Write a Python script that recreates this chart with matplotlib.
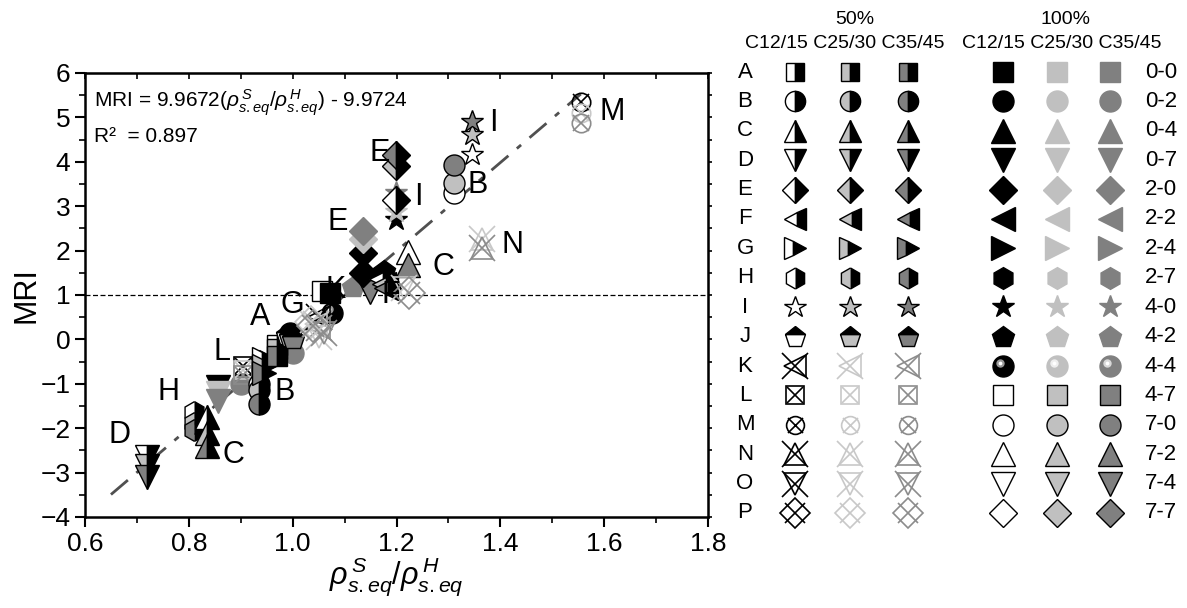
import matplotlib
matplotlib.use("Agg")
import matplotlib.pyplot as plt
import numpy as np
from matplotlib.ticker import MultipleLocator, FormatStrFormatter
from matplotlib.transforms import ScaledTranslation

plt.rcParams["font.family"] = ["Liberation Sans", "DejaVu Sans"]
plt.rcParams["mathtext.fontset"] = "custom"
plt.rcParams["mathtext.rm"] = "Liberation Sans"
plt.rcParams["mathtext.it"] = "Liberation Sans:italic"

# legend table
GROUPS_50 = list("ABCDEFGHIJKLMNOP")
GROUPS_100 = ["0-0", "0-2", "0-4", "0-7", "2-0", "2-2", "2-4", "2-7",
              "4-0", "4-2", "4-4", "4-7", "7-0", "7-2", "7-4", "7-7"]
CLASSES = ["C12/15", "C25/30", "C35/45"]

# fit line
FIT_SLOPE = 9.9672
FIT_INTERCEPT = -9.9724
FIT_R2 = 0.897
FIT_X = [0.65, 1.555]

# 50% mixes: group letter, concrete class, x, y
p50_grp = ["D", "D", "D", "H", "H", "H", "C", "C", "C",
           "L", "L", "L", "B", "B", "B", "G", "G", "G",
           "A", "A", "A", "J", "J", "J",
           "K", "K", "K", "O", "O", "P", "P",
           "F", "F", "F", "O", "P",
           "E", "E", "E", "I", "I", "I",
           "N", "N", "M", "M", "M"]
p50_cls = [0, 1, 2, 0, 1, 2, 0, 1, 2,
           0, 1, 2, 0, 1, 2, 0, 1, 2,
           0, 1, 2, 0, 1, 2,
           0, 1, 2, 1, 2, 1, 2,
           0, 1, 2, 1, 2,
           0, 1, 2, 0, 1, 2,
           1, 2, 0, 1, 2]
p50_x = [0.72, 0.72, 0.72, 0.81, 0.81, 0.81, 0.835, 0.835, 0.835,
         0.905, 0.905, 0.905, 0.935, 0.935, 0.935, 0.945, 0.945, 0.945,
         0.97, 0.97, 0.97, 0.99, 0.995, 1.0,
         1.05, 1.045, 1.05, 1.05, 1.06, 1.035, 1.04,
         1.17, 1.175, 1.18, 1.215, 1.225,
         1.2, 1.2, 1.2, 1.345, 1.345, 1.345,
         1.365, 1.365, 1.555, 1.555, 1.555]
p50_y = [-2.65, -2.85, -3.1, -1.63, -1.88, -2.05, -1.75, -2.1, -2.4,
         -0.6, -0.7, -0.8, -1.0, -1.15, -1.45, -0.45, -0.6, -0.75,
         -0.12, -0.22, -0.38, 0.1, 0.05, 0.0,
         0.5, 0.35, 0.25, 0.05, 0.15, 0.4, 0.3,
         1.35, 1.25, 1.15, 1.15, 1.05,
         3.15, 3.9, 4.15, 4.15, 4.6, 4.9,
         2.25, 2.05, 5.35, 5.1, 4.87]

# 100% mixes: group code, concrete class, x, y
p100_grp = ["0-7", "0-7", "0-7", "0-2", "2-4", "0-2", "4-4",
            "4-4", "4-7", "0-0", "4-2", "7-4", "2-0", "4-2", "0-4",
            "2-0", "2-0", "2-0", "7-2", "7-2",
            "4-0", "4-0", "4-0", "7-0", "7-0", "7-0"]
p100_cls = [0, 1, 2, 2, 0, 2, 0,
            0, 0, 0, 2, 2, 0, 0, 0,
            0, 1, 2, 0, 2,
            0, 1, 2, 0, 1, 2]
p100_x = [0.857, 0.857, 0.857, 0.9, 0.958, 1.0, 0.995,
          1.075, 1.057, 1.072, 1.116, 1.149, 1.135, 1.175, 1.185,
          1.135, 1.135, 1.135, 1.222, 1.222,
          1.2, 1.2, 1.2, 1.31, 1.31, 1.31]
p100_y = [-1.08, -1.2, -1.38, -1.0, -0.5, -0.3, 0.15,
          0.6, 1.1, 1.05, 1.18, 1.07, 1.5, 1.55, 1.4,
          1.95, 2.25, 2.45, 1.97, 1.68,
          2.7, 2.87, 3.3, 3.3, 3.52, 3.93]

# cluster labels
lab_text = ["D", "H", "C", "L", "B", "A", "G", "K", "F", "E", "E", "I", "I", "B", "C", "N", "M"]
lab_x = [0.667, 0.76, 0.885, 0.864, 0.985, 0.937, 0.999, 1.082, 1.19,
         1.087, 1.168, 1.242, 1.386, 1.357, 1.29, 1.423, 1.615]
lab_y = [-2.15, -1.18, -2.6, -0.28, -1.18, 0.5, 0.78, 1.11, 1.0,
         2.65, 4.2, 3.2, 4.87, 3.48, 1.63, 2.13, 5.12]

SHAPES = ["s", "o", "^", "v", "D", "<", ">", "h", "*", "p", "<", "s", "o", "^", "v", "D"]
# matplotlib draws each shape at a different apparent size
SIZE_FACTOR = {"s": 1.0, "o": 1.08, "^": 1.22, "v": 1.22, "<": 1.22, ">": 1.22,
               "D": 1.0, "h": 1.12, "*": 1.2, "p": 1.15}
HALF_FILL = ["white", "#c0c0c0", "#808080"]
FULL_FILL = ["black", "#c0c0c0", "#808080"]
EDGED_FILL = ["white", "#c0c0c0", "#808080"]
CROSS_LINE = ["black", "#c8c8c8", "#8c8c8c"]
CROSS_SIZE = [1.35, 0.85, 0.8, 1.35, 1.35, 1.1]


def draw50(ax, grp, cls, x, y, ms):
    i = GROUPS_50.index(grp)
    m = SHAPES[i]
    size = ms * SIZE_FACTOR[m]
    if i < 8:
        ax.plot(x, y, ls="none", marker=m, ms=size, fillstyle="left",
                mfc=HALF_FILL[cls], mfcalt="black", mec="black", mew=1)
    elif i == 8:
        ax.plot(x, y, ls="none", marker="*", ms=size, mfc=HALF_FILL[cls],
                mec="black", mew=1)
    elif i == 9:
        ax.plot(x, y, ls="none", marker="p", ms=size, fillstyle="bottom",
                mfc=HALF_FILL[cls], mfcalt="black", mec="black", mew=1)
    else:
        c = CROSS_LINE[cls]
        ax.plot(x, y, ls="none", marker=m, ms=ms * (0.95 if m in "so" else 1.15),
                mfc="none", mec=c, mew=1.2)
        ax.plot(x, y, ls="none", marker="x", ms=ms * CROSS_SIZE[i - 10],
                mec=c, mew=1.2)


def draw100(ax, grp, cls, x, y, ms):
    i = GROUPS_100.index(grp)
    m = SHAPES[i]
    if i == 10:
        size = ms * SIZE_FACTOR["o"]
        ax.plot(x, y, ls="none", marker="o", ms=size, mfc=FULL_FILL[cls],
                mec=FULL_FILL[cls])
        off = ax.transData + ScaledTranslation(-2 / 72, 2.5 / 72, ax.figure.dpi_scale_trans)
        hl = ["#9a9a9a", "#eeeeee", "#d8d8d8"][cls]
        ax.plot(x, y, ls="none", marker="o", ms=size * 0.4, mfc=hl, mec="none", transform=off)
        ax.plot(x, y, ls="none", marker="o", ms=size * 0.18, mfc="white", mec="none", transform=off)
    elif i < 10:
        ax.plot(x, y, ls="none", marker=m, ms=ms * SIZE_FACTOR[m],
                mfc=FULL_FILL[cls], mec=FULL_FILL[cls], mew=1)
    else:
        ax.plot(x, y, ls="none", marker=m, ms=ms * SIZE_FACTOR[m], mfc=EDGED_FILL[cls],
                mec="black", mew=1)


fig = plt.figure(figsize=(11.87, 6.08), dpi=100)
ax = fig.add_axes([85 / 1187, 1 - 517 / 608, 623 / 1187, 444 / 608])

fx = np.array(FIT_X)
ax.plot(fx, FIT_SLOPE * fx + FIT_INTERCEPT, color="#505050", lw=2,
        dashes=(8, 4, 2, 4), zorder=1)
ax.axhline(1, color="black", lw=0.9, ls=(0, (4, 2)), zorder=1)

for g, c, x, y in zip(p100_grp, p100_cls, p100_x, p100_y):
    draw100(ax, g, c, x, y, 14)
for g, c, x, y in zip(p50_grp, p50_cls, p50_x, p50_y):
    draw50(ax, g, c, x, y, 14)

for t, x, y in zip(lab_text, lab_x, lab_y):
    ax.text(x, y, t, fontsize=22, ha="center", va="center")

ax.text(0.015, 0.932,
        r"MRI = 9.9672($\rho^{\,S}_{s.eq}$/$\rho^{\,H}_{s.eq}$) - 9.9724",
        transform=ax.transAxes, fontsize=15, va="center")
ax.text(0.015, 0.858, f"R²  = {FIT_R2}", transform=ax.transAxes,
        fontsize=15, va="center")

ax.set_xlim(0.6, 1.8)
ax.set_ylim(-4, 6)
ax.xaxis.set_major_locator(MultipleLocator(0.2))
ax.xaxis.set_minor_locator(MultipleLocator(0.1))
ax.xaxis.set_major_formatter(FormatStrFormatter("%.1f"))
ax.yaxis.set_major_locator(MultipleLocator(1))
ax.yaxis.set_minor_locator(MultipleLocator(0.5))
ax.tick_params(which="major", direction="out", length=7, width=1.5, labelsize=19)
ax.tick_params(which="minor", direction="out", length=4, width=1.2)
for s in ax.spines.values():
    s.set_linewidth(1.8)

top = ax.secondary_xaxis("top")
top.xaxis.set_major_locator(MultipleLocator(0.2))
top.xaxis.set_minor_locator(MultipleLocator(0.1))
top.tick_params(which="both", direction="in", labeltop=False, width=1.2, length=4)
right = ax.secondary_yaxis("right")
right.yaxis.set_major_locator(MultipleLocator(1))
right.yaxis.set_minor_locator(MultipleLocator(0.5))
right.tick_params(which="both", direction="out", labelright=False, width=1.2, length=3)

ax.set_ylabel("MRI", fontsize=22, labelpad=-1)
ax.set_xlabel(r"$\rho^{\,S}_{s.eq}$/$\rho^{\,H}_{s.eq}$", fontsize=22, labelpad=0)

# legend table on the right
lg = fig.add_axes([700 / 1187, 0, 487 / 1187, 1])
lg.set_xlim(700, 1187)
lg.set_ylim(608, 0)
lg.axis("off")

row_y = 72 + 29.4 * np.arange(len(GROUPS_50))
col50 = [795, 850, 908]
col100 = [1003, 1057, 1110]

lg.text(855, 20, "50%", fontsize=14, ha="center", va="center")
lg.text(1065, 20, "100%", fontsize=14, ha="center", va="center")
lg.text(845, 43, " ".join(CLASSES), fontsize=14, ha="center", va="center")
lg.text(1062, 43, " ".join(CLASSES), fontsize=14, ha="center", va="center")

for r, (g50, g100) in enumerate(zip(GROUPS_50, GROUPS_100)):
    lg.text(745, row_y[r], g50, fontsize=16, ha="center", va="center")
    lg.text(1161, row_y[r], g100, fontsize=16, ha="center", va="center")
    for c in range(3):
        draw50(lg, g50, c, col50[c], row_y[r], 13.5)
        draw100(lg, g100, c, col100[c], row_y[r], 14)

fig.savefig("out.png", dpi=100)
